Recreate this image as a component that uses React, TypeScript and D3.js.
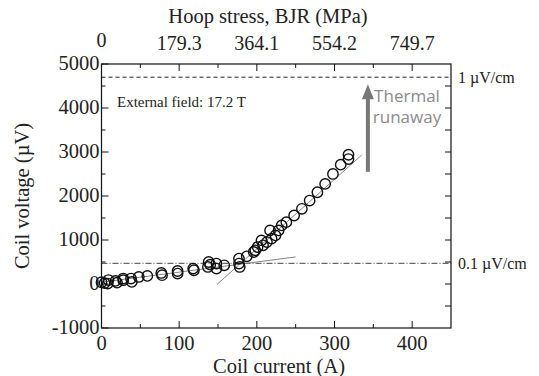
import React from "react";
import * as d3 from "d3";

const currentA = [0, 4, 8, 9, 18, 20, 28, 28, 38, 39, 48, 59, 77, 78, 98, 98, 118, 119, 137, 138, 140, 148, 148, 158, 177, 177, 178, 187, 196, 198, 201, 206, 208, 213, 217, 219, 224, 228, 232, 238, 248, 258, 268, 278, 288, 298, 308, 318, 318];
const voltageUV = [40, 20, 10, 90, 70, 30, 124, 86, 124, 48, 160, 184, 251, 200, 296, 237, 350, 312, 387, 500, 440, 464, 351, 425, 577, 464, 387, 629, 727, 765, 840, 990, 878, 953, 1218, 1030, 1105, 1218, 1331, 1406, 1557, 1709, 1897, 2085, 2275, 2501, 2712, 2938, 2840];

const xTicks = [0, 100, 200, 300, 400];
const yTicks = [-1000, 0, 1000, 2000, 3000, 4000, 5000];
const stressLabels = ["0", "179.3", "364.1", "554.2", "749.7"];

const lowFit = [[0, 40], [250, 615]];
const highFit = [[149, -5], [335, 2930]];
const criterion1 = 4700;
const criterion01 = 470;

export default function App() {
  const W = 539, H = 376;
  const x = d3.scaleLinear().domain([0, 450]).range([101.5, 451]);
  const y = d3.scaleLinear().domain([-1000, 5000]).range([328, 64]);
  const serif = { fontFamily: "Liberation Serif, Times New Roman, Times, serif" };
  const sans = { fontFamily: "Open Sans, Noto Sans, sans-serif" };
  const line = d3.line<number[]>().x((d) => x(d[0])).y((d) => y(d[1]));
  const minorX = d3.range(50, 450, 100);
  const minorY = d3.range(-500, 5000, 1000);
  const allY = d3.range(-500, 5000, 500);
  const [x0, x1] = x.range();
  const [yb, yt] = y.range();

  return (
    <svg width={W} height={H} style={{ position: "absolute", left: 0, top: 0 }}>
      <rect width={W} height={H} fill="#fff" />
      <line x1={x0} x2={x1} y1={y(criterion1)} y2={y(criterion1)} stroke="#222" strokeWidth={1} strokeDasharray="4,3" />
      <line x1={x0} x2={x1} y1={y(criterion01)} y2={y(criterion01)} stroke="#444" strokeWidth={1} strokeDasharray="6,2,1,2" />
      <path d={line(lowFit) || ""} stroke="#777" strokeWidth={0.9} fill="none" />
      <path d={line(highFit) || ""} stroke="#777" strokeWidth={0.9} fill="none" />
      {currentA.map((c, i) => (
        <circle key={i} cx={x(c)} cy={y(voltageUV[i])} r={5.2} fill="none" stroke="#111" strokeWidth={1.4} />
      ))}
      <rect x={x0} y={yt} width={x1 - x0} height={yb - yt} fill="none" stroke="#111" strokeWidth={1.2} />
      {xTicks.map((t) => (
        <g key={"xt" + t}>
          <line x1={x(t)} x2={x(t)} y1={yb} y2={yb - 7} stroke="#111" />
          <line x1={x(t)} x2={x(t)} y1={yt} y2={yt + 7} stroke="#111" />
          <text x={x(t)} y={yb + 22} textAnchor="middle" style={serif} fontSize={20.5} fill="#222">{t}</text>
        </g>
      ))}
      {minorX.map((t) => (
        <g key={"xm" + t}>
          <line x1={x(t)} x2={x(t)} y1={yb} y2={yb - 4} stroke="#111" />
          <line x1={x(t)} x2={x(t)} y1={yt} y2={yt + 4} stroke="#111" />
        </g>
      ))}
      {stressLabels.map((s, i) => (
        <text key={"sl" + i} x={x(xTicks[i])} y={i === 0 ? 47 : 50} textAnchor="middle" style={serif} fontSize={20} fill="#222">{s}</text>
      ))}
      {yTicks.map((t) => (
        <g key={"yt" + t}>
          <line x1={x0} x2={x0 + 7} y1={y(t)} y2={y(t)} stroke="#111" />
          <text x={x0 - 2} y={y(t) + 6} textAnchor="end" style={serif} fontSize={20.5} fill="#222">{t}</text>
        </g>
      ))}
      {minorY.map((t) => (
        <line key={"ym" + t} x1={x0} x2={x0 + 4} y1={y(t)} y2={y(t)} stroke="#111" />
      ))}
      {allY.map((t) => (
        <line key={"yr" + t} x1={x1} x2={x1 - 6} y1={y(t)} y2={y(t)} stroke="#111" />
      ))}
      <text x={268} y={23} textAnchor="middle" style={serif} fontSize={20.5} fill="#222">Hoop stress, BJR (MPa)</text>
      <text x={279} y={373} textAnchor="middle" style={serif} fontSize={20.5} fill="#222">Coil current (A)</text>
      <text transform={`translate(29,${(yt + yb) / 2}) rotate(-90)`} textAnchor="middle" style={serif} fontSize={20.5} fill="#222">Coil voltage (µV)</text>
      <text x={117} y={107} style={serif} fontSize={15} fill="#222">External field: 17.2 T</text>
      <text x={458} y={y(criterion1) + 6} style={serif} fontSize={16} fill="#222">1 µV/cm</text>
      <text x={458} y={y(criterion01) + 6} style={serif} fontSize={16} fill="#222">0.1 µV/cm</text>
      <line x1={x(343)} x2={x(343)} y1={y(2550)} y2={y(4250)} stroke="#777" strokeWidth={4} />
      <path d={`M${x(343) - 6},${y(4200)} L${x(343) + 6},${y(4200)} L${x(343)},${y(4540)} Z`} fill="#777" />
      <text x={407} y={102} textAnchor="middle" style={sans} fontSize={17} fill="#8a8a8a">Thermal</text>
      <text x={407} y={123} textAnchor="middle" style={sans} fontSize={17} fill="#8a8a8a">runaway</text>
    </svg>
  );
}
